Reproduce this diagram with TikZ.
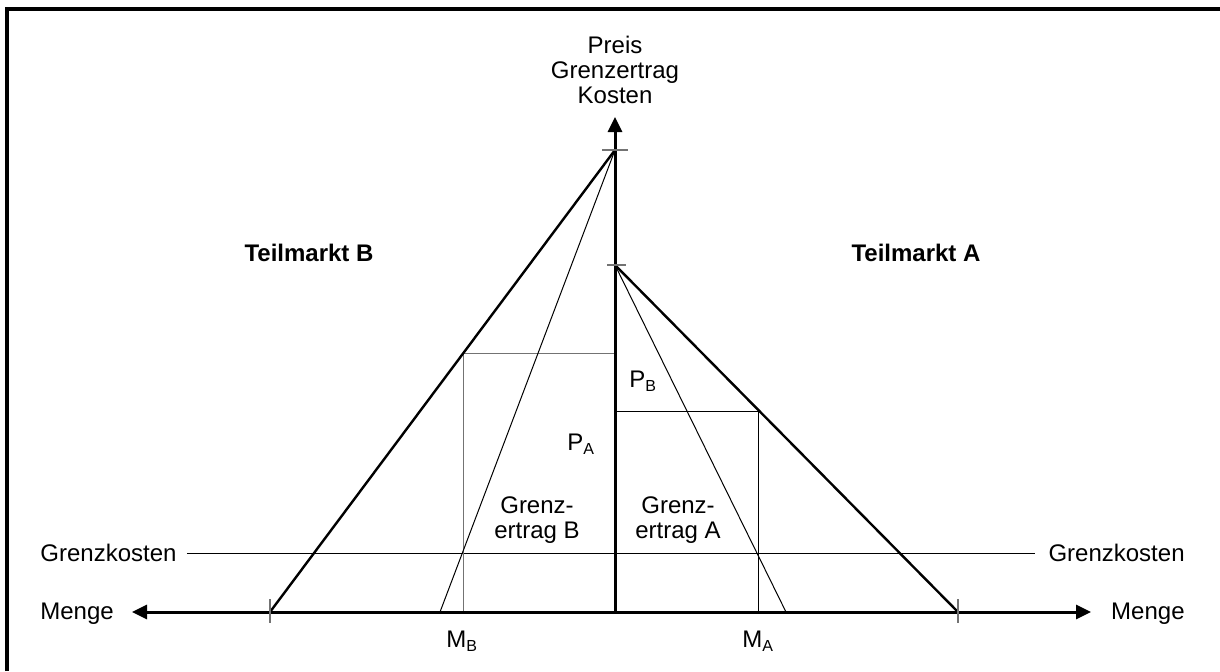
\documentclass[tikz,border=0pt]{standalone}
\usepackage{fontspec}
\setmainfont{Liberation Sans}
\usetikzlibrary{arrows.meta}

\begin{document}
\begin{tikzpicture}[x=0.5pt,y=-0.5pt,
  axis/.style={line width=1.5pt, -{Triangle[length=7.5pt,width=7pt]}},
  demand/.style={line width=1.2pt},
  hair/.style={line width=0.5pt},
  axtick/.style={line width=0.6pt, black!55},
  lbl/.style={font=\fontsize{12}{12.5}\selectfont, inner sep=0pt, align=center}]
\useasboundingbox (0,0) rectangle (1220,671);
% frame (only top and left edge are inside the page)
\draw[line width=1.6pt] (7,671) -- (7,9) -- (1220,9);
% points
\coordinate (O) at (615,612);
\coordinate (ytip) at (615,117);
\coordinate (xl) at (132,612);
\coordinate (xr) at (1091,612);
\coordinate (topB) at (615,150);
\coordinate (topA) at (615,265);
\coordinate (endB) at (270,612);
\coordinate (endA) at (958,612);
\coordinate (grB) at (440,612);
\coordinate (grA) at (786,612);
\coordinate (mB) at (463,612);
\coordinate (mA) at (758,612);
\coordinate (pB) at (463,353);
\coordinate (pA) at (758,411);
% labels
\node[lbl] (yname) at (615,70) {Preis\\Grenzertrag\\Kosten};
\node[lbl, font=\fontsize{12}{12.5}\selectfont\bfseries] (tmB) at (309,253) {Teilmarkt B};
\node[lbl, font=\fontsize{12}{12.5}\selectfont\bfseries] (tmA) at (916,253) {Teilmarkt A};
\node[lbl, anchor=west] (gkL) at (40,553) {Grenzkosten};
\node[lbl, anchor=east] (gkR) at (1185,553) {Grenzkosten};
\node[lbl, anchor=west] (mengeL) at (40,614) {Menge};
\node[lbl, anchor=east] (mengeR) at (1185,614) {Menge};
\node[lbl, anchor=west] (labPB) at (629,381) {P\textsubscript{B}};
\node[lbl, anchor=west] (labPA) at (567,444) {P\textsubscript{A}};
\node[lbl] (labGB) at (537,520) {Grenz-\\ertrag B};
\node[lbl] (labGA) at (678,520) {Grenz-\\ertrag A};
\node[lbl, anchor=west] (labMB) at (446,641) {M\textsubscript{B}};
\node[lbl, anchor=west] (labMA) at (742,641) {M\textsubscript{A}};
% marginal cost line
\draw[hair] (gkL.east) ++(5pt,0) coordinate (gk1) -- (gkR.west -| 1035,0) coordinate (gk2);
% boxes
\draw[hair, black!55] (mB) -- (pB) -- (pB -| O);
\draw[hair] (mA) -- (pA) -- (pA -| O);
% demand and marginal revenue
\draw[demand] (topB) -- (endB);
\draw[demand] (topA) -- (endA);
\draw[hair] (topB) -- (grB);
\draw[hair] (topA) -- (grA);
% axes
\draw[axis] (O) -- (ytip);
\draw[axis] (O) -- (xl);
\draw[axis] (O) -- (xr);
% ticks
\draw[axtick] (602,150) -- (628,150);
\draw[axtick] (607,265) -- (626,265);
\draw[axtick] (270,599) -- (270,623);
\draw[axtick] (958,599) -- (958,623);
\end{tikzpicture}
\end{document}
